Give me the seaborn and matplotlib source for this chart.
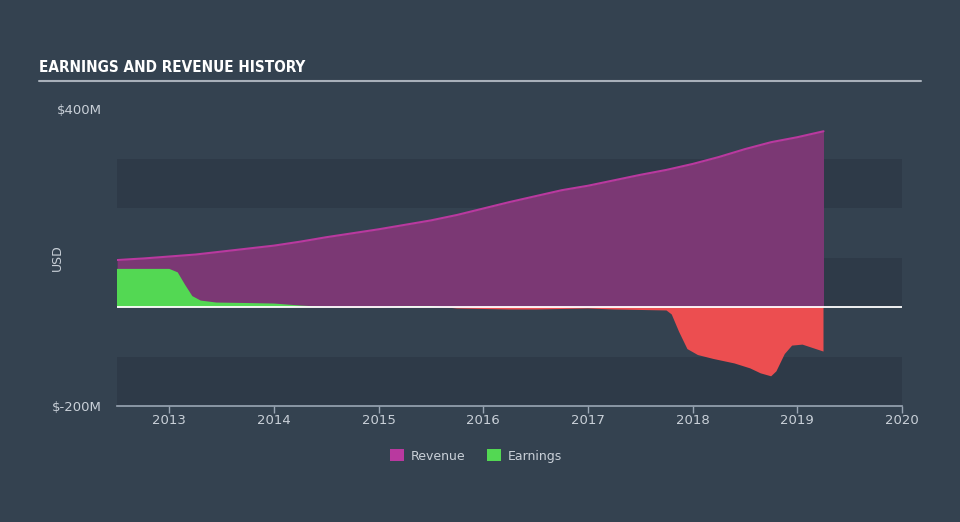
import numpy as np
import pandas as pd
import matplotlib
matplotlib.use("Agg")
import matplotlib.pyplot as plt
from matplotlib.patches import Patch
import seaborn as sns

# ---- data (USD millions) ----
rev_years = [2012.5, 2012.75, 2013.0, 2013.25, 2013.5, 2013.75, 2014.0, 2014.25, 2014.5, 2014.75,
             2015.0, 2015.25, 2015.5, 2015.75, 2016.0, 2016.25, 2016.5, 2016.75, 2017.0, 2017.25,
             2017.5, 2017.75, 2018.0, 2018.25, 2018.5, 2018.75, 2019.0, 2019.25]
revenue = [95, 98, 102, 106, 112, 118, 124, 132, 141, 149,
           157, 166, 175, 186, 199, 212, 224, 236, 245, 256,
           267, 277, 289, 303, 319, 333, 343, 355]

earn_years = [2012.5, 2013.0, 2013.08, 2013.15, 2013.22, 2013.3, 2013.45, 2013.75, 2014.0, 2014.25,
              2014.5, 2014.75, 2015.0, 2015.25, 2015.5, 2015.75, 2016.0, 2016.25, 2016.5, 2016.75,
              2017.0, 2017.25, 2017.5, 2017.75, 2017.8, 2017.87, 2017.95, 2018.05, 2018.2, 2018.4,
              2018.55, 2018.65, 2018.75, 2018.8, 2018.88, 2018.95, 2019.05, 2019.15, 2019.25]
earnings = [77, 77, 70, 45, 22, 13, 9, 8, 7, 3,
            0, -1, -1, 2, 2, -3, -4, -5, -5, -4,
            -3, -5, -6, -7, -15, -50, -85, -97, -105, -114,
            -124, -134, -140, -130, -95, -78, -76, -83, -90]

x_ticks = [2013, 2014, 2015, 2016, 2017, 2018, 2019, 2020]
y_ticks = [-200, 400]
y_tick_labels = ["$-200M", "$400M"]
series_names = ["Revenue", "Earnings"]

# ---- colours ----
BG = "#344250"
BAND = "#2e3a48"
REV_FILL = "#7b3874"
REV_LINE = "#b9399f"
EARN_POS = "#53d853"
EARN_NEG = "#ec4e50"
TEXT = "#c9d0d8"
AXIS = "#9aa6b4"

sns.set_theme(style="dark")
plt.rcParams["font.family"] = ["DejaVu Sans"]

rev_df = pd.DataFrame({"year": rev_years, "value": revenue})
earn_df = pd.DataFrame({"year": earn_years, "value": earnings})

fig = plt.figure(figsize=(9.6, 5.22), dpi=100, facecolor=BG)
ax = fig.add_axes([117/960, 1-406/522, 785/960, (406-109)/522])
ax.set_facecolor(BG)
ax.set_xlim(2012.5, 2020)
ax.set_ylim(-200, 400)

# horizontal bands
for lo, hi in [(-200, -100), (0, 100), (200, 300)]:
    ax.axhspan(lo, hi, color=BAND, zorder=0, lw=0)

# revenue
ax.fill_between(rev_df["year"], 0, rev_df["value"], color=REV_FILL, lw=0, zorder=2)
sns.lineplot(data=rev_df, x="year", y="value", ax=ax, color=REV_LINE, lw=1.5, zorder=3)

# earnings
ex = earn_df["year"].to_numpy(); ey = earn_df["value"].to_numpy()
ax.fill_between(ex, 0, ey, where=ey >= 0, interpolate=True, color=EARN_POS, lw=0, zorder=4)
ax.fill_between(ex, 0, ey, where=ey <= 0, interpolate=True, color=EARN_NEG, lw=0, zorder=4)

# zero line
ax.axhline(0, color="white", lw=1.3, zorder=5)

# axes styling
for s in ["top", "right", "left"]:
    ax.spines[s].set_visible(False)
ax.spines["bottom"].set_color(AXIS)
ax.spines["bottom"].set_linewidth(1.2)
ax.spines["bottom"].set_zorder(6)
ax.set_xticks(x_ticks)
ax.set_xticklabels([str(t) for t in x_ticks])
ax.tick_params(axis="x", colors=AXIS, length=5, width=1, direction="out", pad=1,
               labelcolor=TEXT, labelsize=9.5, bottom=True)
ax.set_yticks(y_ticks)
ax.set_yticklabels(y_tick_labels)
ax.tick_params(axis="y", length=0, pad=11, labelcolor=TEXT, labelsize=9.5)
ax.grid(False)
ax.set_xlabel("")
ax.set_ylabel("USD", color=TEXT, fontsize=9)
ax.yaxis.set_label_coords((64-117)/785, 0.5)

# title + underline
fig.text(39/960, 1-68/522, "EARNINGS AND REVENUE HISTORY", color="white",
         fontsize=11, fontweight="bold", fontstretch="condensed", va="center", ha="left",
         family=["DejaVu Sans"])
fig.add_artist(plt.Line2D([39/960, 921/960], [1-81/522, 1-81/522], color="#a8b0ba", lw=1.5))

# legend
handles = [Patch(facecolor=REV_LINE, edgecolor="none"), Patch(facecolor=EARN_POS, edgecolor="none")]
leg = fig.legend(handles, series_names, loc="center", bbox_to_anchor=(476/960, 1-456/522), ncol=2,
                 frameon=False, fontsize=9, handlelength=1.1, handleheight=1.1,
                 columnspacing=1.8, handletextpad=0.5)
for t in leg.get_texts():
    t.set_color(TEXT)

fig.savefig("out.png", dpi=100, facecolor=BG)
